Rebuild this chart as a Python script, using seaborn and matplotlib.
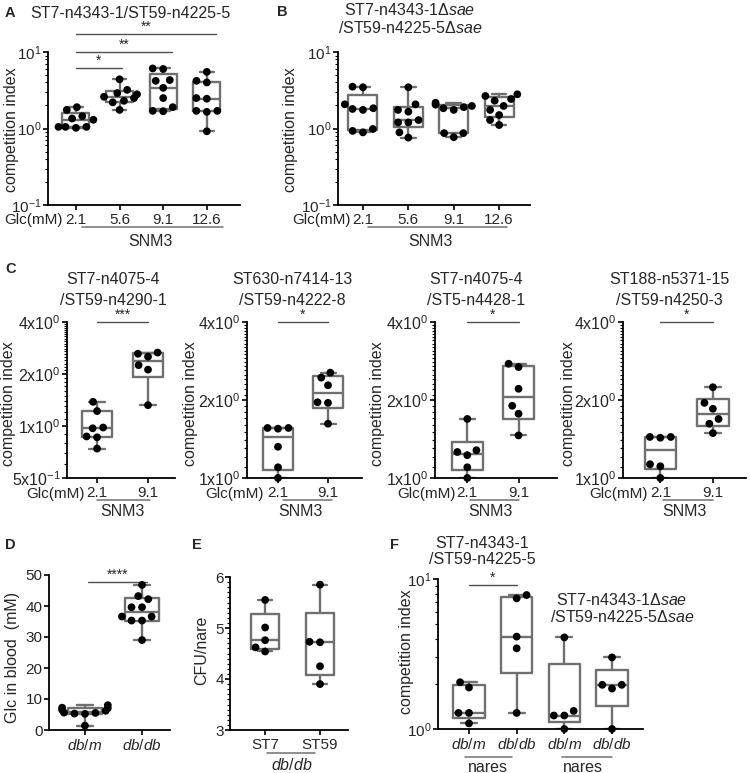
import numpy as np
import pandas as pd
import seaborn as sns
import matplotlib.pyplot as plt
from matplotlib.ticker import FixedLocator, FixedFormatter, NullFormatter, MultipleLocator

sns.set_style('ticks')
plt.rcParams['font.family'] = ['Liberation Sans', 'DejaVu Sans']
plt.rcParams['mathtext.fontset'] = 'custom'
plt.rcParams['mathtext.rm'] = 'Liberation Sans'
plt.rcParams['mathtext.it'] = 'Liberation Sans:italic'
plt.rcParams['mathtext.bf'] = 'Liberation Sans:bold'

# ---- data ----
glc_labels = ['2.1', '5.6', '9.1', '12.6']
a_vals = [[1.9, 1.75, 1.45, 1.35, 1.3, 1.05, 1.05, 1.05, 1.02],
          [4.4, 3.2, 2.9, 2.8, 2.6, 2.5, 2.3, 2.2, 1.75],
          [6.1, 6.0, 4.3, 4.2, 3.4, 2.5, 1.9, 1.7, 1.68],
          [5.5, 4.2, 4.0, 2.5, 2.45, 1.7, 1.7, 1.65, 0.92]]
b_vals = [[3.46, 3.52, 2.07, 1.75, 1.84, 1.80, 0.89, 0.985, 0.93],
          [3.46, 2.07, 1.66, 1.75, 1.20, 1.29, 1.20, 0.89, 0.76],
          [2.17, 1.97, 2.05, 1.84, 1.75, 1.9, 0.77, 0.87, 0.87],
          [2.43, 2.66, 2.80, 2.31, 1.97, 1.50, 1.75, 1.29, 1.11]]

c_labels = ['2.1', '9.1']
c1_vals = [[1.38, 1.22, 0.98, 0.97, 0.87, 0.86, 0.74], [2.66, 2.62, 2.52, 2.25, 2.12, 1.32]]
c2_vals = [[1.56, 1.56, 1.55, 1.32, 1.10, 1.0], [2.55, 2.44, 2.28, 1.96, 1.95, 1.62]]
c3_vals = [[1.69, 1.28, 1.26, 1.225, 1.10, 1.0], [2.76, 2.68, 2.21, 1.9, 1.77, 1.46]]
c4_vals = [[1.44, 1.44, 1.43, 1.13, 1.11, 1.0], [2.24, 1.95, 1.85, 1.69, 1.62, 1.49]]
c_titles = [('ST7-n4075-4', '/ST59-n4290-1', '***'),
            ('ST630-n7414-13', '/ST59-n4222-8', '*'),
            ('ST7-n4075-4', '/ST5-n4428-1', '*'),
            ('ST188-n5371-15', '/ST59-n4250-3', '*')]

mouse_labels = [r'$\mathit{db/m}$', r'$\mathit{db/db}$']
d_vals = [[8.0, 7.2, 7.0, 6.5, 6.2, 5.6, 5.5, 5.3, 5.2, 1.4],
          [46.8, 43.2, 42.2, 39.6, 39.6, 36.6, 36.6, 35.3, 35.3, 29.0]]
e_labels = ['ST7', 'ST59']
e_vals = [[5.55, 5.01, 4.76, 4.62, 4.54], [5.85, 4.73, 4.72, 4.25, 3.90]]
f_vals = [[2.05, 1.89, 1.28, 1.28, 1.09],
          [7.82, 7.43, 4.13, 3.45, 1.28],
          [4.08, 1.32, 1.23, 1.23, 1.0],
          [3.0, 1.97, 1.86, 1.97, 1.0]]

GRAY = '#707070'
SIG = '#505050'
W, H = 750, 773
fig = plt.figure(figsize=(7.5, 7.73), dpi=100)


def add_ax(rect):
    l, t, r, b = rect
    return fig.add_axes([l / W, 1 - b / H, (r - l) / W, (b - t) / H])


def ftext(x, y, s, **kw):
    kw.setdefault('ha', 'center')
    kw.setdefault('va', 'center')
    kw.setdefault('fontsize', 11.5)
    fig.text(x / W, 1 - y / H, s, **kw)


def yf(rect, ypx):
    return (rect[3] - ypx) / (rect[3] - rect[1])


def panel(rect, groups, ticklabels, width, xlim):
    ax = add_ax(rect)
    stats = []
    for g in groups:
        v = np.asarray(g, float)
        q1, med, q3 = np.percentile(v, [25, 50, 75], method='weibull')
        stats.append(dict(med=med, q1=q1, q3=q3, whislo=v.min(), whishi=v.max(), fliers=[]))
    lp = dict(color=GRAY, lw=1.7)
    ax.bxp(stats, positions=range(len(groups)), widths=width, showfliers=False,
           boxprops=lp, whiskerprops=lp, capprops=lp, medianprops=lp, manage_ticks=False)
    keys = [f'g{i}' for i in range(len(groups))]
    df = pd.DataFrame({'grp': np.repeat(keys, [len(g) for g in groups]),
                       'val': np.concatenate(groups)})
    # invisible edge widens the swarm spacing a little, like the Prism layout
    sns.swarmplot(data=df, x='grp', y='val', order=keys, color='black', size=5.6,
                  linewidth=1.6, edgecolor='none', ax=ax, zorder=3, warn_thresh=1)
    for c in ax.collections:
        c.set_clip_on(False)
    ax.set_xlim(*xlim)
    ax.set_xticks(range(len(groups)))
    ax.set_xticklabels(ticklabels)
    ax.set_xlabel('')
    ax.set_ylabel('')
    sns.despine(ax=ax)
    for s in ('left', 'bottom'):
        ax.spines[s].set_linewidth(1.3)
        ax.spines[s].set_color('black')
    ax.tick_params(which='major', length=3.5, width=1.2, pad=2, labelsize=11, color='black')
    ax.tick_params(axis='y', which='major', pad=1)
    ax.tick_params(which='minor', length=2, width=0.8, color='black')
    return ax


def sig(ax, rect, x0, x1, ypx, stars):
    y = yf(rect, ypx)
    tr = ax.get_xaxis_transform()
    ax.plot([x0, x1], [y, y], transform=tr, color=SIG, lw=1.0, clip_on=False)
    ax.text((x0 + x1) / 2, y, stars, transform=tr, ha='center', va='bottom',
            fontsize=10, clip_on=False)


def under(ax, rect, x0, x1, ypx, label, xl, ylpx):
    tr = ax.get_xaxis_transform()
    y = yf(rect, ypx)
    ax.plot([x0, x1], [y, y], transform=tr, color=GRAY, lw=1.1, clip_on=False)
    ax.text(xl, yf(rect, ylpx), label, transform=tr, ha='center', va='center',
            fontsize=11.5, clip_on=False)


def log10_axis(ax, lo, hi):
    ax.set_yscale('log')
    ax.set_ylim(lo, hi)
    ax.yaxis.set_minor_formatter(NullFormatter())


def log2_axis(ax, ticks, labels):
    ax.set_yscale('log', base=2)
    ax.set_ylim(ticks[0], ticks[-1])
    ax.yaxis.set_major_locator(FixedLocator(ticks))
    ax.yaxis.set_major_formatter(FixedFormatter(labels))
    minors = [m for m in np.round(np.arange(ticks[0], ticks[-1], 0.1), 2) if m not in ticks]
    ax.yaxis.set_minor_locator(FixedLocator(minors))
    ax.yaxis.set_minor_formatter(NullFormatter())
    ax.tick_params(axis='y', which='major', labelsize=11.5)


# ---- A ----
rA = (48, 52, 240, 205)
axA = panel(rA, a_vals, glc_labels, 0.62, (-0.64, 3.76))
log10_axis(axA, 0.1, 10)
sig(axA, rA, 0, 1.05, 68, '*')
sig(axA, rA, 0, 2.2, 52, '**')
sig(axA, rA, 0, 3.2, 34, '**')
under(axA, rA, 0.14, 3.37, 227, 'SNM3', 1.7, 241)
ftext(63, 220, 'Glc(mM)', ha='right', fontsize=11)
ftext(12, 130, 'competition index', rotation=90)
ftext(130, 13, 'ST7-n4343-1/ST59-n4225-5')
ftext(10, 13, 'A', fontweight='bold', fontsize=10.5)

# ---- B ----
rB = (338, 52, 530, 205)
axB = panel(rB, b_vals, glc_labels, 0.64, (-0.55, 3.68))
log10_axis(axB, 0.1, 10)
under(axB, rB, 0.11, 3.18, 227, 'SNM3', 1.48, 241)
ftext(351, 220, 'Glc(mM)', ha='right', fontsize=11)
ftext(291, 130, 'competition index', rotation=90)
ftext(410, 10, r'ST7-n4343-1Δ$\mathit{sae}$')
ftext(410, 28, r'/ST59-n4225-5Δ$\mathit{sae}$')
ftext(282, 12, 'B', fontweight='bold', fontsize=10.5)

# ---- C ----
c_rects = [(67, 322, 175, 478), (247, 322, 362, 478), (435, 322, 557, 478), (623, 322, 746, 478)]
c_xlims = [(-0.59, 1.53), (-0.62, 1.68), (-0.63, 1.75), (-0.71, 1.63)]
c_centers = [113, 292, 476, 669]
c_ylab_x = [9, 190, 377, 568]
c_glc_x = [85, 264, 456, 648]
c_under = [(0.0, 1.04, 0.5), (0.1, 1.08, 0.44), (0.06, 1.0, 0.45), (0.06, 1.0, 0.45)]
for i, vals in enumerate([c1_vals, c2_vals, c3_vals, c4_vals]):
    r = c_rects[i]
    ax = panel(r, vals, c_labels, 0.6, c_xlims[i])
    if i == 0:
        log2_axis(ax, [0.5, 1, 2, 4],
                  [r'5x10$^{-1}$', r'1x10$^{0}$', r'2x10$^{0}$', r'4x10$^{0}$'])
    else:
        log2_axis(ax, [1, 2, 4], [r'1x10$^{0}$', r'2x10$^{0}$', r'4x10$^{0}$'])
    t1, t2, stars = c_titles[i]
    sig(ax, r, 0, 1, 322, stars)
    u0, u1, ul = c_under[i]
    under(ax, r, u0, u1, 500, 'SNM3', ul, 512)
    ftext(c_glc_x[i], 494, 'Glc(mM)', ha='right', fontsize=11)
    ftext(c_ylab_x[i], 404, 'competition index', rotation=90)
    ftext(c_centers[i], 280, t1)
    ftext(c_centers[i], 300, t2)
ftext(11, 269, 'C', fontweight='bold', fontsize=10.5)

# ---- D ----
rD = (49, 575, 170, 730)
axD = panel(rD, d_vals, mouse_labels, 0.58, (-0.63, 1.49))
axD.set_ylim(0, 50)
axD.set_yticks(range(0, 51, 10))
sig(axD, rD, 0.05, 1.09, 582, '****')
ftext(13, 657, 'Glc in blood  (mM)', rotation=90)
ftext(10, 545, 'D', fontweight='bold', fontsize=10.5)

# ---- E ----
rE = (230, 577, 348, 730)
axE = panel(rE, e_vals, e_labels, 0.5, (-0.64, 1.51))
axE.set_ylim(3, 6)
axE.set_yticks([3, 4, 5, 6])
axE.yaxis.set_minor_locator(MultipleLocator(0.1))
under(axE, rE, 0.04, 0.91, 753, r'$\mathit{db/db}$', 0.49, 765)
ftext(202, 650, 'CFU/nare', rotation=90)
ftext(197, 545, 'E', fontweight='bold', fontsize=10.5)

# ---- F ----
rF = (438, 579, 643, 729)
axF = panel(rF, f_vals, mouse_labels * 2, 0.66, (-0.65, 3.65))
log10_axis(axF, 1, 10)
sig(axF, rF, 0, 1.0, 585, '*')
under(axF, rF, -0.08, 0.9, 757, 'nares', 0.4, 767)
under(axF, rF, 1.95, 3.0, 757, 'nares', 2.39, 767)
ftext(407, 652, 'competition index', rotation=90)
ftext(482, 543, 'ST7-n4343-1')
ftext(482, 560, '/ST59-n4225-5')
ftext(622, 600, r'ST7-n4343-1Δ$\mathit{sae}$')
ftext(622, 617, r'/ST59-n4225-5Δ$\mathit{sae}$')
ftext(395, 545, 'F', fontweight='bold', fontsize=10.5)

fig.savefig('out.png', dpi=100)
